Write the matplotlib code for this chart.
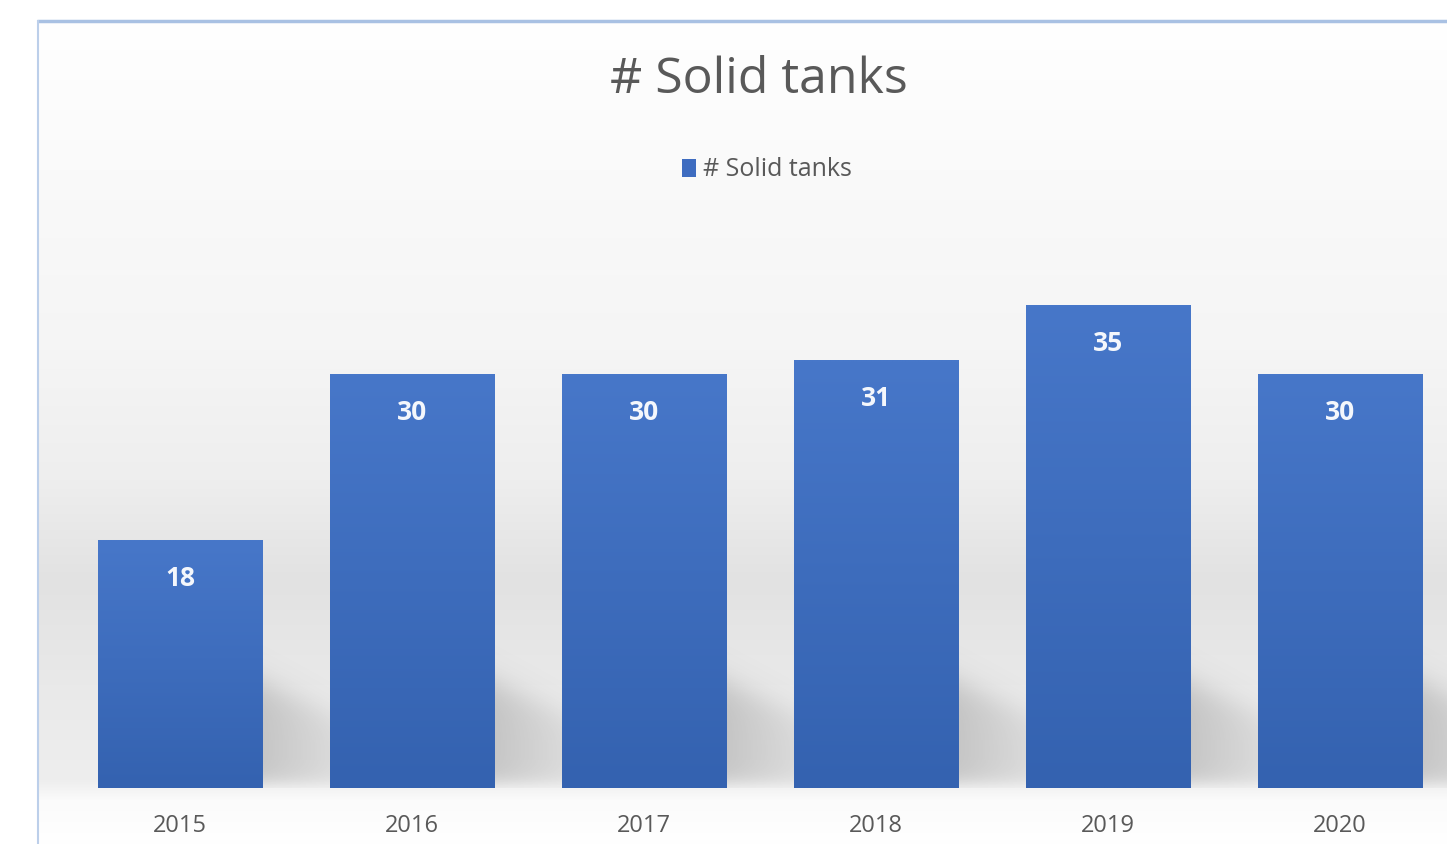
import numpy as np
import matplotlib.pyplot as plt
from matplotlib.patches import Patch

years = ['2015', '2016', '2017', '2018', '2019', '2020']
tanks = [18, 30, 30, 31, 35, 30]
series_name = '# Solid tanks'

W, H = 1447, 844
plt.rcParams['font.family'] = ['Open Sans', 'DejaVu Sans']
fig = plt.figure(figsize=(W / 100, H / 100), dpi=100)

# background panel with the soft grey gradient and the thin blue frame
bg = fig.add_axes([0, 0, 1, 1], zorder=0)
bg.set_xlim(0, W)
bg.set_ylim(H, 0)
bg.axis('off')
rows = np.arange(20, H)
stop_y = [20, 200, 350, 480, 580, 640, 700, 780, 800, 844]
stop_g = [255, 249, 245, 238, 226, 230, 234, 238, 251, 255]
grey = np.interp(rows, stop_y, stop_g) / 255
grad = np.repeat(grey[:, None, None], 3, axis=2)
bg.imshow(grad, extent=(37, W, H, 20), aspect='auto', interpolation='bilinear')
bg.plot([37, W], [21, 21], color='#a9c1e3', lw=2.5, solid_capstyle='butt')
bg.plot([38, 38], [20, H], color='#bccfea', lw=1.5, solid_capstyle='butt')
bg.set_xlim(0, W)
bg.set_ylim(H, 0)

# bar chart axes
ax = fig.add_axes([64 / W, 56 / H, (W - 64) / W, 551 / H], zorder=1)
ax.patch.set_visible(False)
x = np.arange(len(years))
width = 0.707
bars = ax.bar(x, tanks, width=width, color='none', edgecolor='none')

px_x = 1 / 232    # data units per pixel, horizontal
px_y = 1 / 13.78  # data units per pixel, vertical

bar_grad = np.linspace(0, 1, 100)[:, None]
top_c = np.array([0x47, 0x77, 0xc9]) / 255
bot_c = np.array([0x34, 0x62, 0xb0]) / 255
bar_img = (top_c * (1 - bar_grad[..., None]) + bot_c * bar_grad[..., None])

# shadows to the right of each bar
sx = np.linspace(0, 75, 80)
sy = np.linspace(0, 170, 170)
SX, SY = np.meshgrid(sx, sy)
top_edge = 106 - 0.45 * SX
alpha = 0.26 / (1 + np.exp(-(top_edge - SY) / 9)) / (1 + np.exp(-(SY - 6) / 5))
alpha *= (1 - 0.55 * SX / 75)
shadow = np.zeros(SX.shape + (4,))
shadow[..., :3] = 0.35
shadow[..., 3] = alpha

for b, v in zip(bars, tanks):
    x0 = b.get_x()
    x1 = x0 + b.get_width()
    ax.imshow(shadow, extent=(x1, x1 + 75 * px_x, 0, 170 * px_y), origin='lower',
              aspect='auto', zorder=1, interpolation='bilinear')
    ax.imshow(bar_img, extent=(x0, x1, 0, v), aspect='auto', zorder=2,
              interpolation='bilinear')
    ax.text(b.get_x() + b.get_width() / 2, v - 38 * px_y, str(v), ha='center', va='center',
            color='#f4f7fc', fontsize=19, fontweight='bold', zorder=3)

for i, yr in enumerate(years):
    ax.text(i, -38 * px_y, yr, ha='center', va='center', color='#595959', fontsize=17)

ax.set_xlim(-0.5, -0.5 + (W - 64) * px_x)
ax.set_ylim(0, 40)
ax.axis('off')

fig.text(759 / W, 1 - 80 / H, '# Solid tanks', ha='center', va='center',
         fontsize=36, color='#595959')
fig.legend(handles=[Patch(facecolor='#3e6cc0')], labels=[series_name], loc='center',
           bbox_to_anchor=(767 / W, 1 - 170 / H), frameon=False, fontsize=18,
           handlelength=0.55, handleheight=0.7, handletextpad=0.3, labelcolor='#595959')

fig.savefig('out.png', dpi=100)
